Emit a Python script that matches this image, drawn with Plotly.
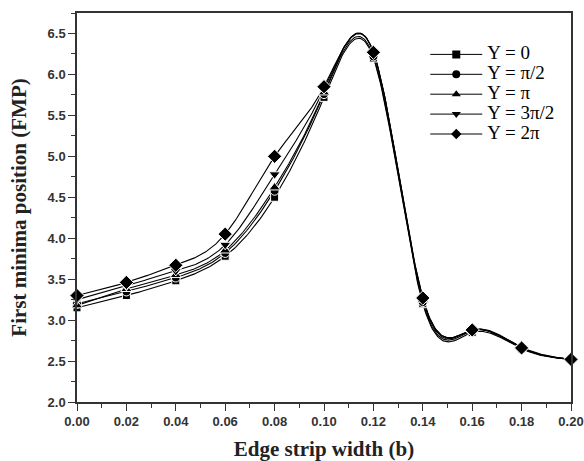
import numpy as np
import plotly.graph_objects as go

b_values = [0.00, 0.02, 0.04, 0.06, 0.08, 0.10, 0.12, 0.14, 0.16, 0.18, 0.20]

series_names = ["Y = 0", "Y = π/2", "Y = π", "Y = 3π/2", "Y = 2π"]
fmp_y0 = [3.15, 3.30, 3.48, 3.78, 4.50, 5.72, 6.20, 3.20, 2.85, 2.65, 2.52]
fmp_y_half_pi = [3.20, 3.35, 3.52, 3.82, 4.58, 5.76, 6.22, 3.22, 2.87, 2.66, 2.52]
fmp_y_pi = [3.18, 3.38, 3.55, 3.85, 4.62, 5.78, 6.27, 3.25, 2.88, 2.67, 2.52]
fmp_y_3half_pi = [3.25, 3.42, 3.60, 3.92, 4.78, 5.82, 6.27, 3.27, 2.88, 2.66, 2.52]
fmp_y_2pi = [3.30, 3.46, 3.67, 4.05, 5.00, 5.85, 6.27, 3.27, 2.88, 2.66, 2.52]
all_series = [fmp_y0, fmp_y_half_pi, fmp_y_pi, fmp_y_3half_pi, fmp_y_2pi]
symbols = ["square", "circle", "triangle-up", "triangle-down", "diamond"]
marker_sizes = [8, 9, 10, 10, 11]

x_ticks = [0.00, 0.02, 0.04, 0.06, 0.08, 0.10, 0.12, 0.14, 0.16, 0.18, 0.20]
y_ticks = [2.0, 2.5, 3.0, 3.5, 4.0, 4.5, 5.0, 5.5, 6.0, 6.5]


def natural_spline(xs, ys, n=400):
    """Natural cubic spline connector through the data (like Origin's 'Spline' line)."""
    x = np.asarray(xs, float)
    y = np.asarray(ys, float)
    m = len(x)
    h = np.diff(x)
    A = np.zeros((m, m))
    r = np.zeros(m)
    A[0, 0] = A[-1, -1] = 1.0
    for i in range(1, m - 1):
        A[i, i - 1] = h[i - 1]
        A[i, i] = 2 * (h[i - 1] + h[i])
        A[i, i + 1] = h[i]
        r[i] = 6 * ((y[i + 1] - y[i]) / h[i] - (y[i] - y[i - 1]) / h[i - 1])
    M = np.linalg.solve(A, r)
    xx = np.linspace(x[0], x[-1], n)
    idx = np.clip(np.searchsorted(x, xx) - 1, 0, m - 2)
    x0, x1 = x[idx], x[idx + 1]
    hh = x1 - x0
    t0 = x1 - xx
    t1 = xx - x0
    yy = (M[idx] * t0 ** 3 + M[idx + 1] * t1 ** 3) / (6 * hh) \
        + (y[idx] / hh - M[idx] * hh / 6) * t0 + (y[idx + 1] / hh - M[idx + 1] * hh / 6) * t1
    return xx, yy


fig = go.Figure()
# spline connectors
for name, vals in zip(series_names, all_series):
    sx, sy = natural_spline(b_values, vals)
    fig.add_trace(go.Scatter(x=sx, y=sy, mode="lines", showlegend=False,
                             line=dict(color="black", width=1.1), hoverinfo="skip"))
# data symbols
for name, vals, sym, ms in zip(series_names, all_series, symbols, marker_sizes):
    fig.add_trace(go.Scatter(
        x=b_values, y=vals, name=name, mode="markers", showlegend=False,
        marker=dict(symbol=sym, size=ms, color="black",
                    line=dict(color="white", width=1)),
        cliponaxis=False,
    ))
# legend entries (line + symbol glyph)
for name, sym in zip(series_names, symbols):
    fig.add_trace(go.Scatter(
        x=[None], y=[None], mode="lines+markers",
        name=f"<span style='font-size:19px'>{name}</span>",
        line=dict(color="black", width=1),
        marker=dict(symbol=sym, size=8, color="black"),
    ))

axis_common = dict(
    showline=True, linecolor="#333", linewidth=1.5, mirror=True,
    ticks="outside", ticklen=7, tickwidth=1.2, tickcolor="#333",
    showgrid=False, zeroline=False, automargin=False,
    tickfont=dict(family="Liberation Sans, Arial", size=13, color="#333", weight="bold"),
)

fig.update_layout(
    width=584, height=461,
    margin=dict(l=77, r=13, t=13, b=59),
    paper_bgcolor="white", plot_bgcolor="white",
    showlegend=True,
    legend=dict(x=0.705, y=0.932, xanchor="left", yanchor="top",
                bgcolor="rgba(0,0,0,0)",
                font=dict(family="Liberation Serif, Times New Roman", size=13, color="black"),
                tracegroupgap=0, itemwidth=52),
    xaxis=dict(axis_common, range=[0, 0.2], tickvals=x_ticks,
               ticktext=[f"{v:.2f}" for v in x_ticks],
               minor=dict(ticks="outside", ticklen=4, dtick=0.01, tickcolor="#333"),
               title=dict(text="Edge strip width (b)", standoff=14,
                          font=dict(family="Liberation Serif, Times New Roman", size=21,
                                    color="#222", weight="bold"))),
    yaxis=dict(axis_common, range=[2.0, 6.75], tickvals=y_ticks,
               ticktext=[f"{v:.1f}" for v in y_ticks],
               minor=dict(ticks="outside", ticklen=4, dtick=0.25, tickcolor="#333"),
               title=dict(text="First minima position (FMP)", standoff=15,
                          font=dict(family="Liberation Serif, Times New Roman", size=21,
                                    color="#222", weight="bold"))),
)

fig.write_html("out.html", config={"displayModeBar": False},
               post_script="document.body.style.margin='0px';")
